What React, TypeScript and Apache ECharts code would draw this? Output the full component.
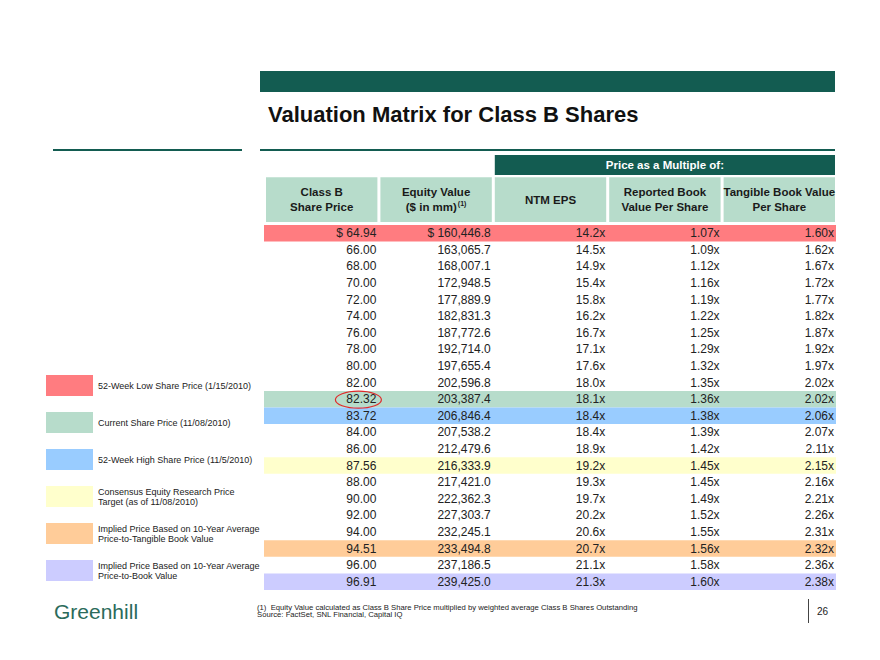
import { useEffect, useRef } from "react";
import * as echarts from "echarts";

// ---------- data ----------
const sharePrice = [64.94, 66.0, 68.0, 70.0, 72.0, 74.0, 76.0, 78.0, 80.0, 82.0, 82.32, 83.72, 84.0, 86.0, 87.56, 88.0, 90.0, 92.0, 94.0, 94.51, 96.0, 96.91];
const equityValue = [160446.8, 163065.7, 168007.1, 172948.5, 177889.9, 182831.3, 187772.6, 192714.0, 197655.4, 202596.8, 203387.4, 206846.4, 207538.2, 212479.6, 216333.9, 217421.0, 222362.3, 227303.7, 232245.1, 233494.8, 237186.5, 239425.0];
const ntmEpsMultiple = [14.2, 14.5, 14.9, 15.4, 15.8, 16.2, 16.7, 17.1, 17.6, 18.0, 18.1, 18.4, 18.4, 18.9, 19.2, 19.3, 19.7, 20.2, 20.6, 20.7, 21.1, 21.3];
const reportedBookMultiple = [1.07, 1.09, 1.12, 1.16, 1.19, 1.22, 1.25, 1.29, 1.32, 1.35, 1.36, 1.38, 1.39, 1.42, 1.45, 1.45, 1.49, 1.52, 1.55, 1.56, 1.58, 1.6];
const tangibleBookMultiple = [1.6, 1.62, 1.67, 1.72, 1.77, 1.82, 1.87, 1.92, 1.97, 2.02, 2.02, 2.06, 2.07, 2.11, 2.15, 2.16, 2.21, 2.26, 2.31, 2.32, 2.36, 2.38];

const columnHeaders = ["Class B\nShare Price", "Equity Value\n($ in mm)", "NTM EPS", "Reported Book\nValue Per Share", "Tangible Book Value\nPer Share"];
const columnHeaderMarks = ["", "(1)", "", "", ""];
const groupHeader = "Price as a Multiple of:";
const groupHeaderSpan = [2, 5];

const highlightNames = [
  "52-Week Low Share Price (1/15/2010)",
  "Current Share Price (11/08/2010)",
  "52-Week High Share Price (11/5/2010)",
  "Consensus Equity Research Price\nTarget (as of 11/08/2010)",
  "Implied Price Based on 10-Year Average\nPrice-to-Tangible Book Value",
  "Implied Price Based on 10-Year Average\nPrice-to-Book Value",
];
const highlightPrices = [64.94, 82.32, 83.72, 87.56, 94.51, 96.91];
const circledPrice = 82.32;

const titleText = "Valuation Matrix for Class B Shares";
const footnotes = [
  "(1)  Equity Value calculated as Class B Share Price multiplied by weighted average Class B Shares Outstanding",
  "Source: FactSet, SNL Financial, Capital IQ",
];
const brandName = "Greenhill";
const pageNumber = "26";

// ---------- styles ----------
const FONT = '"Liberation Sans", Arial, Helvetica, sans-serif';
const DARK_GREEN = "#135c51";
const LIGHT_GREEN = "#b7dccb";
const HIGHLIGHT_COLORS = ["#ff7c80", "#b7dccb", "#99ccff", "#ffffcc", "#ffcc99", "#ccccff"];
const TEXT_COLOR = "#222222";

function addCommas(s: string): string {
  const [int, dec] = s.split(".");
  const withCommas = int.replace(/\B(?=(\d{3})+(?!\d))/g, ",");
  return dec !== undefined ? withCommas + "." + dec : withCommas;
}

function cellTexts(i: number): string[] {
  const dollar = i === 0 ? "$ " : "";
  return [
    dollar + sharePrice[i].toFixed(2),
    dollar + addCommas(equityValue[i].toFixed(1)),
    ntmEpsMultiple[i].toFixed(1) + "x",
    reportedBookMultiple[i].toFixed(2) + "x",
    tangibleBookMultiple[i].toFixed(2) + "x",
  ];
}

export default function App() {
  const ref = useRef<HTMLDivElement>(null);

  useEffect(() => {
    if (!ref.current) return;
    const chart = echarts.init(ref.current, undefined, { renderer: "svg" });

    const rowIndices = sharePrice.map((_, i) => i);
    const circledRow = sharePrice.indexOf(circledPrice);

    const bandSeries = highlightNames.map((name, k) => ({
      type: "custom",
      name,
      xAxisIndex: 0,
      yAxisIndex: 0,
      z: 1,
      itemStyle: { color: HIGHLIGHT_COLORS[k] },
      data: [[0, sharePrice.indexOf(highlightPrices[k])]],
      renderItem: (_params: any, api: any) => {
        const row = api.value(1);
        const p0 = api.coord([0, row]);
        const p1 = api.coord([5, row]);
        const h = api.size([0, 1])[1];
        return {
          type: "rect",
          shape: { x: p0[0], y: p0[1] - h / 2, width: p1[0] - p0[0], height: h },
          style: { fill: api.visual("color") },
        };
      },
    }));

    const cellSeries = {
      type: "custom",
      name: "cells",
      xAxisIndex: 0,
      yAxisIndex: 0,
      z: 3,
      data: rowIndices.map((i) => [0, i]),
      renderItem: (_params: any, api: any) => {
        const row = api.value(1);
        const texts = cellTexts(row);
        const children: any[] = texts.map((t, c) => {
          const p = api.coord([c + 1, row]);
          return {
            type: "text",
            x: p[0] - 2,
            y: p[1],
            style: {
              text: t,
              align: "right",
              verticalAlign: "middle",
              fill: TEXT_COLOR,
              fontSize: 12,
              fontFamily: FONT,
            },
          };
        });
        if (row === circledRow) {
          const p = api.coord([1, row]);
          children.push({
            type: "ellipse",
            shape: { cx: p[0] - 20, cy: p[1] + 0.5, rx: 23, ry: 8.5 },
            style: { fill: "none", stroke: "#e02b2b", lineWidth: 1.2 },
          });
        }
        return { type: "group", children };
      },
    };

    const headerSeries = {
      type: "custom",
      name: "headers",
      xAxisIndex: 1,
      yAxisIndex: 1,
      z: 3,
      data: columnHeaders.map((_, c) => [c, 0]),
      renderItem: (_params: any, api: any) => {
        const c = api.value(0);
        const p0 = api.coord([c, 2]);
        const p1 = api.coord([c + 1, 0]);
        const x = p0[0] + 2;
        const w = p1[0] - p0[0] - 3;
        const lines = columnHeaders[c].split("\n");
        const mark = columnHeaderMarks[c];
        const text = lines
          .map((l, li) => "{b|" + l + "}" + (li === lines.length - 1 && mark ? "{sup|" + mark + "}" : ""))
          .join("\n");
        return {
          type: "group",
          children: [
            {
              type: "rect",
              shape: { x, y: p0[1], width: w, height: p1[1] - p0[1] },
              style: { fill: LIGHT_GREEN },
            },
            {
              type: "text",
              x: x + w / 2,
              y: (p0[1] + p1[1]) / 2,
              style: {
                text,
                align: "center",
                verticalAlign: "middle",
                rich: {
                  b: { fontSize: 11.5, fontWeight: "bold", fontFamily: FONT, fill: "#1a1a1a", color: "#1a1a1a", lineHeight: 15 },
                  sup: { fontSize: 7, fontWeight: "bold", fontFamily: FONT, fill: "#1a1a1a", color: "#1a1a1a", lineHeight: 15, verticalAlign: "top", padding: [0, 0, 4, 1] },
                },
              },
            },
          ],
        };
      },
    };

    const groupHeaderSeries = {
      type: "custom",
      name: "groupHeader",
      xAxisIndex: 1,
      yAxisIndex: 1,
      z: 3,
      data: [[groupHeaderSpan[0], groupHeaderSpan[1]]],
      renderItem: (_params: any, api: any) => {
        const a = api.value(0);
        const b = api.value(1);
        const p0 = api.coord([a, 3]);
        const p1 = api.coord([b, 2.1]);
        const x = p0[0] + 2;
        const w = p1[0] - p0[0] - 3;
        return {
          type: "group",
          children: [
            { type: "rect", shape: { x, y: p0[1], width: w, height: p1[1] - p0[1] }, style: { fill: DARK_GREEN } },
            {
              type: "text",
              x: x + w / 2,
              y: (p0[1] + p1[1]) / 2,
              style: {
                text: groupHeader,
                align: "center",
                verticalAlign: "middle",
                fill: "#ffffff",
                fontSize: 11.5,
                fontWeight: "bold",
                fontFamily: FONT,
              },
            },
          ],
        };
      },
    };

    const option: any = {
      animation: false,
      backgroundColor: "#ffffff",
      textStyle: { fontFamily: FONT },
      grid: [
        { left: 264, top: 225, width: 572, height: 365 },
        { left: 264, top: 155, width: 572, height: 67 },
      ],
      xAxis: [
        { type: "value", gridIndex: 0, min: 0, max: 5, show: false },
        { type: "value", gridIndex: 1, min: 0, max: 5, show: false },
      ],
      yAxis: [
        { type: "category", gridIndex: 0, inverse: true, data: sharePrice.map((p) => p.toFixed(2)), show: false },
        { type: "value", gridIndex: 1, min: 0, max: 3, show: false },
      ],
      legend: {
        orient: "vertical",
        left: 46,
        top: 375,
        itemWidth: 47,
        itemHeight: 21,
        itemGap: 16,
        selectedMode: false,
        padding: 0,
        data: highlightNames.map((name) => ({ name, icon: "rect" })),
        textStyle: { fontSize: 9, lineHeight: 10, color: TEXT_COLOR, fontFamily: FONT },
      },
      graphic: [
        { type: "rect", shape: { x: 260, y: 71, width: 575, height: 21 }, style: { fill: DARK_GREEN } },
        {
          type: "text",
          x: 268,
          y: 114,
          style: { text: titleText, fill: "#111111", fontSize: 22, fontWeight: "bold", fontFamily: FONT, verticalAlign: "middle" },
        },
        { type: "rect", shape: { x: 53, y: 149, width: 189, height: 2 }, style: { fill: DARK_GREEN } },
        { type: "rect", shape: { x: 260, y: 149, width: 575, height: 2 }, style: { fill: DARK_GREEN } },
        {
          type: "text",
          x: 54,
          y: 611,
          style: { text: brandName, fill: "#2b6b5b", fontSize: 21, fontFamily: FONT, verticalAlign: "middle" },
        },
        {
          type: "text",
          x: 257,
          y: 607,
          style: { text: footnotes[0], fill: TEXT_COLOR, fontSize: 7.7, fontFamily: FONT, verticalAlign: "middle" },
        },
        {
          type: "text",
          x: 257,
          y: 614.5,
          style: { text: footnotes[1], fill: TEXT_COLOR, fontSize: 7.7, fontFamily: FONT, verticalAlign: "middle" },
        },
        { type: "line", shape: { x1: 808.5, y1: 599, x2: 808.5, y2: 623 }, style: { stroke: "#444444", lineWidth: 1 } },
        {
          type: "text",
          x: 817,
          y: 611,
          style: { text: pageNumber, fill: TEXT_COLOR, fontSize: 10, fontFamily: FONT, verticalAlign: "middle" },
        },
      ],
      series: [...bandSeries, cellSeries, headerSeries, groupHeaderSeries],
    };

    chart.setOption(option);
    return () => chart.dispose();
  }, []);

  return <div ref={ref} style={{ position: "fixed", left: 0, top: 0, width: 880, height: 660 }} />;
}
